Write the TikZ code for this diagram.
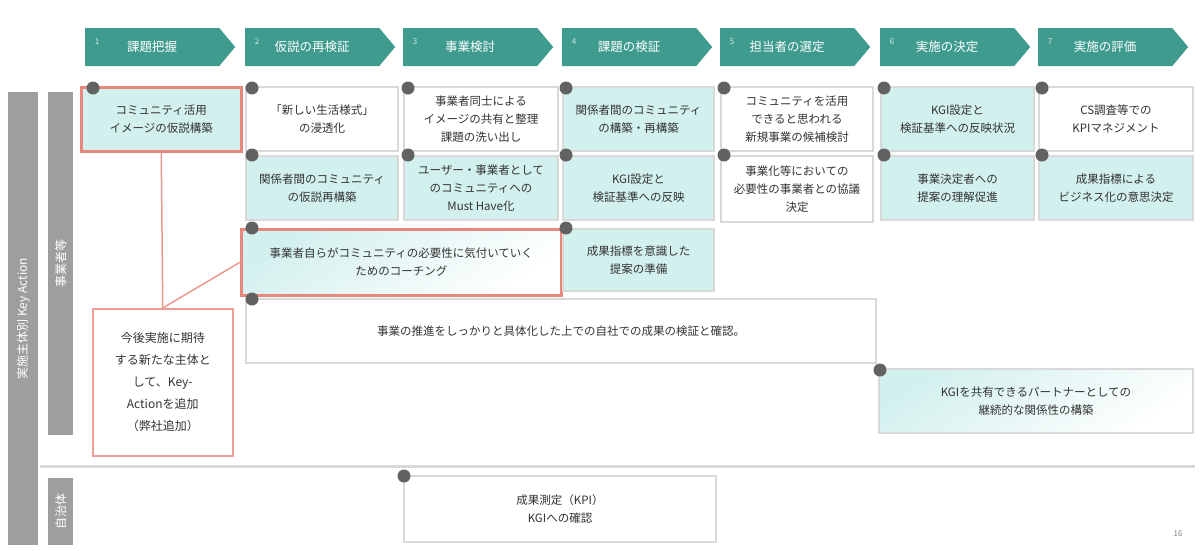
\documentclass[tikz,border=0pt]{standalone}
\usepackage{fontspec}
\setmainfont{Noto Sans CJK JP}
\usetikzlibrary{shapes.symbols}
\definecolor{teal1}{HTML}{3E9B8E}
\definecolor{cyanf}{HTML}{D2F0EE}
\definecolor{bord}{HTML}{D9D9D9}
\definecolor{dotc}{HTML}{626262}
\definecolor{redb}{HTML}{E8877A}
\definecolor{barg}{HTML}{9E9E9E}
\definecolor{txt}{HTML}{333333}
\tikzset{
 hdr/.style={signal, signal to=east, signal pointer angle=100, fill=teal1, text=white, minimum width=150pt, minimum height=38pt, anchor=west, inner sep=0pt, font=\fontsize{12.5}{14}\selectfont},
 hnum/.style={text=white!80!teal1, font=\fontsize{8}{9}\selectfont, inner sep=0pt},
 bx/.style={draw=bord, line width=2pt, anchor=north west, align=center, inner sep=0pt, text=txt, font=\fontsize{11.5}{18}\selectfont},
 cy/.style={fill=cyanf},
 wh/.style={fill=white},
 redbx/.style={draw=redb, line width=2.5pt},
 fade/.style={top color=cyanf, middle color=cyanf, bottom color=white, shading angle=35},
 dot/.style={circle, fill=dotc, minimum size=13pt, inner sep=0pt},
 bar/.style={fill=barg, draw=none, anchor=north west, inner sep=0pt},
 bartxt/.style={text=white, rotate=90, font=\fontsize{12}{14}\selectfont, inner sep=0pt},
 link/.style={draw=redb!85, line width=1.5pt},
}
\begin{document}
\begin{tikzpicture}[x=1pt,y=-1pt]
\useasboundingbox (0,0) rectangle (1200,550);
% headers
\node[hdr] (h1) at (85,47)  {課題把握};
\node[hdr] (h2) at (245,47) {仮説の再検証};
\node[hdr] (h3) at (403,47) {事業検討};
\node[hdr] (h4) at (562,47) {課題の検証};
\node[hdr] (h5) at (720,47) {担当者の選定};
\node[hdr] (h6) at (880,47) {実施の決定};
\node[hdr] (h7) at (1038,47){実施の評価};
\node[hnum] (n1) at (97,42)   {1};
\node[hnum] (n2) at (257,42)  {2};
\node[hnum] (n3) at (415,42)  {3};
\node[hnum] (n4) at (574,42)  {4};
\node[hnum] (n5) at (732,42)  {5};
\node[hnum] (n6) at (892,42)  {6};
\node[hnum] (n7) at (1050,42) {7};
% left bars
\node[bar, minimum width=30pt, minimum height=453pt] (b0) at (8,92) {};
\node[bar, minimum width=25pt, minimum height=343pt] (b1) at (48,92) {};
\node[bar, minimum width=25pt, minimum height=67pt] (b2) at (48,478) {};
\node[bartxt] (t0) at (b0.center) {実施主体別 Key Action};
\node[bartxt] (t1) at (b1.center) {事業者等};
\node[bartxt] (t2) at (b2.center) {自治体};
% divider
\draw[bord, line width=3pt] (40,466) -- (1195,466);
% row 1
\node[bx, cy, redbx, minimum width=160pt, minimum height=64pt] (c1) at (80,86) {コミュニティ活用\\イメージの仮説構築};
\node[bx, wh, minimum width=152pt, minimum height=64pt] (r1c2) at (245,86) {「新しい生活様式」\\の浸透化};
\node[bx, wh, minimum width=154pt, minimum height=64pt] (r1c3) at (403,86) {事業者同士による\\イメージの共有と整理\\課題の洗い出し};
\node[bx, cy, minimum width=151pt, minimum height=64pt] (r1c4) at (562,86) {関係者間のコミュニティ\\の構築・再構築};
\node[bx, wh, minimum width=152pt, minimum height=64pt] (r1c5) at (720,86) {コミュニティを活用\\できると思われる\\新規事業の候補検討};
\node[bx, cy, minimum width=153pt, minimum height=64pt] (r1c6) at (880,86) {KGI設定と\\検証基準への反映状況};
\node[bx, wh, minimum width=154pt, minimum height=64pt] (r1c7) at (1038,86) {CS調査等での\\KPIマネジメント};
% row 2
\node[bx, cy, minimum width=152pt, minimum height=64pt] (r2c2) at (245,155) {関係者間のコミュニティ\\の仮説再構築};
\node[bx, cy, minimum width=154pt, minimum height=64pt] (r2c3) at (403,155) {ユーザー・事業者として\\のコミュニティへの\\Must Have化};
\node[bx, cy, minimum width=151pt, minimum height=64pt] (r2c4) at (562,155) {KGI設定と\\検証基準への反映};
\node[bx, wh, minimum width=152pt, minimum height=66pt] (r2c5) at (720,155) {事業化等においての\\必要性の事業者との協議\\決定};
\node[bx, cy, minimum width=153pt, minimum height=64pt] (r2c6) at (880,155) {事業決定者への\\提案の理解促進};
\node[bx, cy, minimum width=154pt, minimum height=64pt] (r2c7) at (1038,155) {成果指標による\\ビジネス化の意思決定};
% row 3
\node[bx, fade, redbx, minimum width=320pt, minimum height=66pt] (r3a) at (240,228) {事業者自らがコミュニティの必要性に気付いていく\\ためのコーチング};
\node[bx, cy, minimum width=151pt, minimum height=62pt] (r3b) at (562,228) {成果指標を意識した\\提案の準備};
% row 4
\node[bx, wh, minimum width=630pt, minimum height=64pt] (r4) at (245,298) {事業の推進をしっかりと具体化した上での自社での成果の検証と確認。};
% row 5
\node[bx, fade, minimum width=314pt, minimum height=64pt] (r5) at (878,368) {KGIを共有できるパートナーとしての\\継続的な関係性の構築};
% bottom
\node[bx, wh, minimum width=312pt, minimum height=66pt] (bt) at (403,475) {成果測定（KPI）\\KGIへの確認};
% callout
\node[bx, wh, draw=redb!80, line width=1.5pt, minimum width=140pt, minimum height=147pt, font=\fontsize{12}{22}\selectfont] (co) at (92,308) {今後実施に期待\\する新たな主体と\\して、Key-\\Actionを追加\\（弊社追加）};
\draw[link] (c1.south) -- (co.north);
\draw[link] (co.north) -- (r3a.west);
% dots
\node[dot] (d1) at (93,88) {};
\node[dot] (d2) at (252,88) {};
\node[dot] (d3) at (408,88) {};
\node[dot] (d4) at (566,88) {};
\node[dot] (d5) at (724,88) {};
\node[dot] (d6) at (884,88) {};
\node[dot] (d7) at (1042,88) {};
\node[dot] (e2) at (252,155) {};
\node[dot] (e3) at (408,155) {};
\node[dot] (e4) at (566,155) {};
\node[dot] (e5) at (724,155) {};
\node[dot] (e6) at (884,155) {};
\node[dot] (e7) at (1042,155) {};
\node[dot] (f1) at (252,228) {};
\node[dot] (f2) at (566,228) {};
\node[dot] (g1) at (252,299) {};
\node[dot] (g2) at (880,370) {};
\node[dot] (g3) at (404,476) {};
% page number
\node[text=gray, font=\fontsize{8}{9}\selectfont] (pg) at (1178,534) {16};
\end{tikzpicture}
\end{document}
